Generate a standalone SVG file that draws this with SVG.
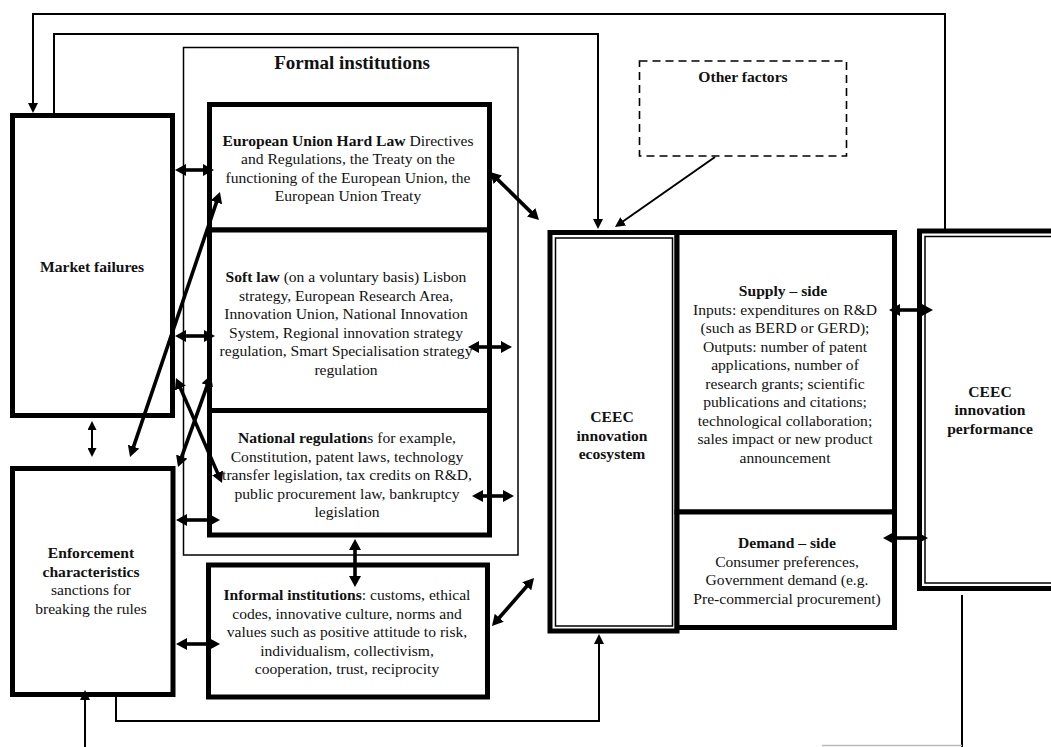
<svg xmlns="http://www.w3.org/2000/svg" width="1051" height="747" viewBox="0 0 1051 747">
<style>
text{font-family:"Liberation Serif","Times New Roman",serif;font-size:15.6px;fill:#111;text-anchor:middle}
.b{font-weight:bold}
.box{fill:#fff;stroke:#000;stroke-width:5}
.thin{fill:none;stroke:#000;stroke-width:1.5}
.dash{fill:none;stroke:#000;stroke-width:1.6;stroke-dasharray:8 5}
.con{fill:none;stroke:#000;stroke-width:2}
.dbl{fill:none;stroke:#000;stroke-width:3.6;marker-start:url(#dh);marker-end:url(#dh)}
.sm{fill:none;stroke:#000;stroke-width:2;marker-start:url(#sh);marker-end:url(#sh)}
.ar{marker-end:url(#th)}
</style>
<defs>
<marker id="dh" markerUnits="userSpaceOnUse" markerWidth="12" markerHeight="12" refX="4" refY="6" orient="auto-start-reverse"><path d="M0,0 L11,6 L0,12 z" fill="#000"/></marker>
<marker id="sh" markerUnits="userSpaceOnUse" markerWidth="10" markerHeight="9" refX="3" refY="4.5" orient="auto-start-reverse"><path d="M0,0 L9,4.5 L0,9 z" fill="#000"/></marker>
<marker id="th" markerUnits="userSpaceOnUse" markerWidth="11" markerHeight="10" refX="3" refY="5" orient="auto"><path d="M0,0 L10,5 L0,10 z" fill="#000"/></marker>
</defs>
<rect width="1051" height="747" fill="#fff"/>

<g id="formal-institutions">
<rect class="thin" x="183.5" y="47.5" width="334.5" height="507.5"/>
<text class="b" x="352" y="69" style="font-size:19px">Formal institutions</text>
</g>

<g id="other-factors">
<rect class="dash" x="639.5" y="61" width="207" height="95"/>
<text class="b" x="743" y="82">Other factors</text>
</g>

<g id="market-failures">
<rect class="box" x="12.5" y="115.5" width="160" height="300"/>
<text class="b" x="92" y="272">Market failures</text>
</g>

<g id="enforcement">
<rect class="box" x="12.5" y="468.5" width="160.5" height="226"/>
<text class="b" x="91" y="558">Enforcement</text>
<text class="b" x="91" y="576.5">characteristics</text>
<text x="91" y="595">sanctions for</text>
<text x="91" y="613.5">breaking the rules</text>
</g>

<g id="hard-law">
<rect class="box" x="209.5" y="104.5" width="280" height="125.5"/>
<text x="348" y="145.5"><tspan class="b">European Union Hard Law</tspan> Directives</text>
<text x="348" y="164">and Regulations, the Treaty on the</text>
<text x="348" y="182.5">functioning of the European Union, the</text>
<text x="348" y="201">European Union Treaty</text>
</g>

<g id="soft-law">
<rect class="box" x="209.5" y="230" width="280" height="180.5"/>
<text x="346" y="282"><tspan class="b">Soft law</tspan> (on a voluntary basis) Lisbon</text>
<text x="346" y="300.5">strategy,  European Research Area,</text>
<text x="346" y="319">Innovation Union, National Innovation</text>
<text x="346" y="337.5">System, Regional innovation strategy</text>
<text x="346" y="356">regulation, Smart Specialisation strategy</text>
<text x="346" y="374.5">regulation</text>
</g>

<g id="national-regulations">
<rect class="box" x="209.5" y="410.5" width="280" height="124.5"/>
<text x="347" y="443"><tspan class="b">National regulation</tspan>s for example,</text>
<text x="347" y="461.5">Constitution, patent laws,  technology</text>
<text x="347" y="480">transfer legislation, tax credits on R&amp;D,</text>
<text x="347" y="498.5">public procurement law, bankruptcy</text>
<text x="347" y="517">legislation</text>
</g>

<g id="informal-institutions">
<rect class="box" x="208.5" y="565" width="279" height="132"/>
<text x="347" y="600"><tspan class="b">Informal institutions</tspan>: customs, ethical</text>
<text x="347" y="618.5">codes, innovative  culture, norms and</text>
<text x="347" y="637">values  such as positive attitude to risk,</text>
<text x="347" y="655.5">individualism,  collectivism,</text>
<text x="347" y="674">cooperation, trust, reciprocity</text>
</g>

<g id="innovation-ecosystem">
<rect class="box" x="550" y="232.5" width="127" height="398.5"/>
<rect class="thin" x="555.5" y="238" width="117" height="388"/>
<text class="b" x="612" y="422">CEEC</text>
<text class="b" x="612" y="440.5">innovation</text>
<text class="b" x="612" y="459">ecosystem</text>
</g>

<g id="supply-side">
<rect class="box" x="677" y="232.5" width="217.5" height="279.5"/>
<text class="b" x="783" y="296">Supply – side</text>
<text x="785" y="314.5">Inputs:  expenditures on R&amp;D</text>
<text x="785" y="333">(such as BERD  or GERD);</text>
<text x="785" y="351.5">Outputs: number of patent</text>
<text x="785" y="370">applications, number of</text>
<text x="785" y="388.5">research grants; scientific</text>
<text x="785" y="407">publications and citations;</text>
<text x="785" y="425.5">technological collaboration;</text>
<text x="785" y="444">sales impact or new product</text>
<text x="785" y="462.5">announcement</text>
</g>

<g id="demand-side">
<rect class="box" x="677" y="512" width="217.5" height="115.5"/>
<text class="b" x="787" y="548">Demand – side</text>
<text x="787" y="566.5">Consumer preferences,</text>
<text x="787" y="585">Government demand (e.g.</text>
<text x="787" y="603.5">Pre-commercial procurement)</text>
</g>

<g id="innovation-performance">
<rect class="box" x="919.5" y="231" width="150" height="357.5"/>
<rect class="thin" x="925" y="236.5" width="140" height="346.5"/>
<text class="b" x="990" y="397">CEEC</text>
<text class="b" x="990" y="415">innovation</text>
<text class="b" x="990" y="433.5">performance</text>
</g>

<g id="connectors">
<path class="con ar" d="M945,229 V14 H33 V106"/>
<path class="con ar" d="M54,113 V34 H598 V222"/>
<path class="con ar" d="M715,157 L620.7,223"/>
<path class="con ar" d="M116,697 V721 H599 V641"/>
<path class="con ar" d="M85,747 V697"/>
<path class="con" d="M962,595 V747"/>
<path d="M822,745.5 H962" fill="none" stroke="#bbb" stroke-width="1.5"/>
<path class="dbl" d="M182,170 H207"/>
<path class="dbl" d="M182,336 H208"/>
<path class="dbl" d="M183,520 H213"/>
<path class="dbl" d="M183,644 H213"/>
<path class="dbl" d="M132.3,450.4 L217.7,198.6"/>
<path class="dbl" d="M178.8,384.4 L219.2,476.6"/>
<path class="dbl" d="M180.4,460.4 L208.6,381.6"/>
<path class="dbl" d="M475,347 H505"/>
<path class="dbl" d="M479,496 H507"/>
<path class="dbl" d="M495,176.9 L534,215.1"/>
<path class="dbl" d="M496.6,620.7 L529.4,583.3"/>
<path class="dbl" d="M355,546 V580"/>
<path class="dbl" d="M896,310 H926"/>
<path class="dbl" d="M890,538 H921"/>
<path class="sm" d="M92,427 V451"/>
</g>
</svg>
